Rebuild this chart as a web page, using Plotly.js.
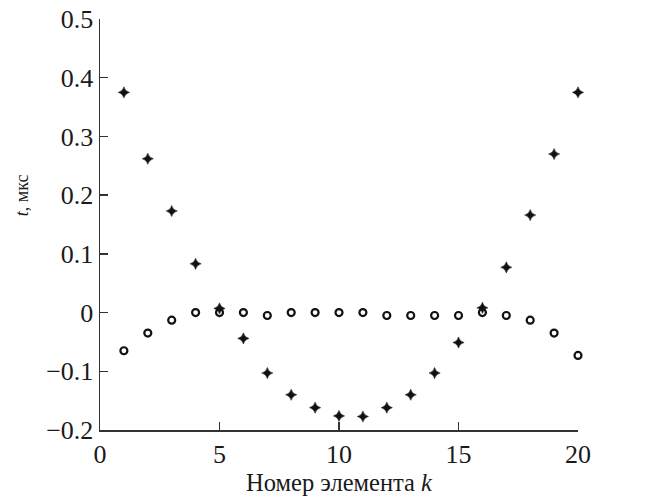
<!DOCTYPE html>
<html>
<head>
<meta charset="utf-8">
<script src="https://cdn.plot.ly/plotly-3.0.1.min.js"></script>
<style>html,body{margin:0;padding:0;background:#fff;}#chart{width:647px;height:498px;}</style>
</head>
<body>
<div id="chart"></div>
<script>
const k = [1,2,3,4,5,6,7,8,9,10,11,12,13,14,15,16,17,18,19,20];
const starValues = [0.375,0.262,0.173,0.083,0.007,-0.044,-0.103,-0.140,-0.162,-0.176,-0.177,-0.162,-0.140,-0.103,-0.051,0.008,0.077,0.166,0.270,0.375];
const circleValues = [-0.065,-0.035,-0.013,0.0,0.0,0.0,-0.005,0.0,0.0,0.0,0.0,-0.005,-0.005,-0.005,-0.005,0.0,-0.005,-0.013,-0.035,-0.073];
const xTicks = [0,5,10,15,20];
const yTicks = [-0.2,-0.1,0,0.1,0.2,0.3,0.4,0.5];
const yTickText = ['\u22120.2','\u22120.1','0','0.1','0.2','0.3','0.4','0.5'];

const font = {family: '"Liberation Serif", "DejaVu Serif", serif', color: '#1a1a1a'};

const traces = [
  {x: k, y: circleValues, type: 'scatter', mode: 'markers', cliponaxis: false,
   marker: {symbol: 'circle-open', size: 7, color: '#111', line: {width: 2.2, color: '#111'}}},
  {x: k, y: starValues, type: 'scatter', mode: 'markers', cliponaxis: false,
   marker: {symbol: 'star-diamond', size: 8, color: '#111', line: {width: 0.5, color: '#111'}}}
];

const layout = {
  width: 647, height: 498,
  margin: {l: 100, r: 69, t: 19, b: 68},
  paper_bgcolor: '#fff', plot_bgcolor: '#fff',
  showlegend: false,
  font: Object.assign({size: 24}, font),
  xaxis: {
    range: [0, 20], tickvals: xTicks, ticktext: xTicks.map(String),
    showgrid: false, zeroline: false, showline: true, linecolor: '#333', linewidth: 1.5,
    ticks: 'inside', ticklen: 8, tickwidth: 1.5, tickcolor: '#333',
    tickfont: Object.assign({size: 26}, font),
    title: {text: 'Номер элемента <i>k</i>', font: Object.assign({size: 24.5}, font), standoff: 2}
  },
  yaxis: {
    range: [-0.2, 0.5], tickvals: yTicks, ticktext: yTickText,
    showgrid: false, zeroline: false, showline: true, linecolor: '#333', linewidth: 1.5,
    ticks: 'inside', ticklen: 8, tickwidth: 1.5, tickcolor: '#333',
    tickfont: Object.assign({size: 26}, font)
  },
  annotations: [{
    text: '<i>t</i>, мкс', xref: 'paper', yref: 'y', x: -0.163, y: 0.2,
    showarrow: false, textangle: -90, xanchor: 'center', yanchor: 'middle',
    font: Object.assign({size: 18}, font)
  }]
};

Plotly.newPlot('chart', traces, layout, {staticPlot: true, displayModeBar: false});
</script>
</body>
</html>
